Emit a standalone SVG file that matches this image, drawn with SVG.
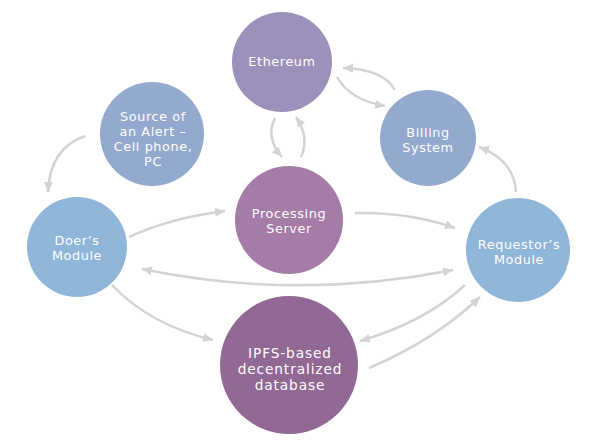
<svg xmlns="http://www.w3.org/2000/svg" width="598" height="443" viewBox="0 0 598 443">
<defs>
<style>
.lbl{font-family:"DejaVu Sans","Open Sans",sans-serif;font-size:12.8px;fill:#ffffff;text-anchor:middle;letter-spacing:0.6px}
.big{font-size:13.7px;letter-spacing:0.9px}
.c{fill:none;stroke:#d3d3d3;stroke-width:2.5;marker-end:url(#ah)}
</style>
<marker id="ah" markerUnits="userSpaceOnUse" markerWidth="12" markerHeight="10" refX="10" refY="4.5" orient="auto-start-reverse" viewBox="0 0 12 10">
<path d="M0,0 L10,4.5 L0,9 z" fill="#d3d3d3"/>
</marker>
</defs>
<rect width="598" height="443" fill="#ffffff"/>
<g id="connectors">
<path class="c" d="M337,77 Q350,100 385,106"/>
<path class="c" d="M395,90 Q383,69 343,68"/>
<path class="c" d="M275,118 Q265,138 282,157"/>
<path class="c" d="M301,157 Q310,138 296,117"/>
<path class="c" d="M516,192 Q514,160 479,147"/>
<path class="c" d="M85,136 Q50,148 48,192"/>
<path class="c" d="M129,237 Q170,218 225,211"/>
<path class="c" d="M355,213 Q410,212 455,228"/>
<path class="c" d="M142,269 Q297,301 453,270" style="marker-start:url(#ah)"/>
<path class="c" d="M112,285 Q150,325 213,340"/>
<path class="c" d="M465,285 Q425,322 360,341"/>
<path class="c" d="M369,368 Q435,340 480,297"/>
</g>
<g id="ethereum">
<circle cx="282" cy="62" r="50" fill="#9b91bb"/>
<text class="lbl" x="282" y="66">Ethereum</text>
</g>
<g id="billing">
<circle cx="428" cy="138" r="48" fill="#94a9ce"/>
<text class="lbl" x="428" y="137">Billing</text>
<text class="lbl" x="428" y="152">System</text>
</g>
<g id="source">
<circle cx="152" cy="134" r="52" fill="#94a9ce"/>
<text class="lbl" x="153" y="121">Source of</text>
<text class="lbl" x="153" y="136">an Alert –</text>
<text class="lbl" x="153" y="151">Cell phone,</text>
<text class="lbl" x="153" y="166">PC</text>
</g>
<g id="doer">
<circle cx="77" cy="247" r="50" fill="#8fb5d9"/>
<text class="lbl" x="77" y="245">Doer’s</text>
<text class="lbl" x="77" y="260">Module</text>
</g>
<g id="processing">
<circle cx="289" cy="220" r="54" fill="#a57ca7"/>
<text class="lbl" x="289" y="218">Processing</text>
<text class="lbl" x="289" y="233">Server</text>
</g>
<g id="requestor">
<circle cx="518" cy="250" r="52" fill="#8fb5d9"/>
<text class="lbl" x="519" y="249">Requestor’s</text>
<text class="lbl" x="519" y="264">Module</text>
</g>
<g id="ipfs">
<circle cx="289" cy="365" r="69" fill="#926895"/>
<text class="lbl big" x="290" y="358">IPFS-based</text>
<text class="lbl big" x="290" y="374">decentralized</text>
<text class="lbl big" x="290" y="390">database</text>
</g>
</svg>
